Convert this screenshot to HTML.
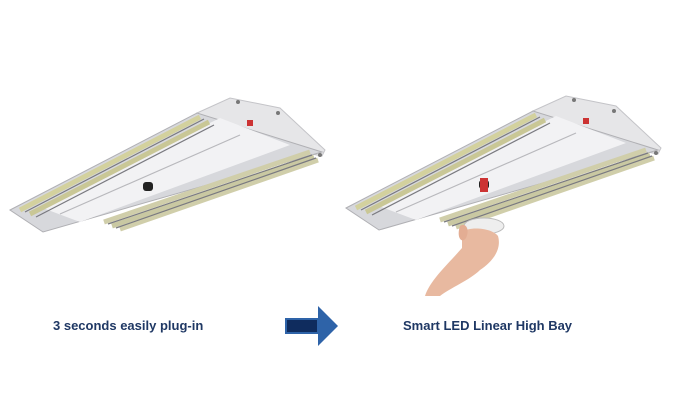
<!DOCTYPE html>
<html><head><style>
body{margin:0;background:#fff;width:684px;height:413px;overflow:hidden;font-family:"Liberation Sans",sans-serif}
.t{position:absolute;font-weight:bold;font-size:13px;color:#1f3864;top:318px}
</style></head><body>
<svg width="684" height="413" style="position:absolute;left:0;top:0">
<defs>
<g id="fx">
<polygon points="197,113 230,98 280,108 325,150 322,156 290,150" fill="#e6e6e8" stroke="#c4c4c8"/>
<polygon points="10,210 197,113 322,152 43,232" fill="#d7d8dc" stroke="#b0b0b4"/>
<polygon points="40,207 220,118 290,145 80,222" fill="#f2f2f4"/>
<g stroke-width="5" stroke-linecap="butt">
<line x1="20" y1="210" x2="200" y2="117" stroke="#d3d19e"/>
<line x1="30" y1="214" x2="209" y2="122" stroke="#c9c796"/>
<line x1="104" y1="222" x2="310" y2="152" stroke="#d0ceaa"/>
<line x1="112" y1="226" x2="314" y2="157" stroke="#c9c8a2"/>
<line x1="120" y1="229" x2="318" y2="160" stroke="#d0ceaa"/>
</g>
<g stroke="#7a7a80" stroke-width="1.2">
<line x1="25" y1="212" x2="204" y2="119"/>
<line x1="36" y1="217" x2="214" y2="125"/>
<line x1="108" y1="224" x2="312" y2="155"/>
<line x1="116" y1="228" x2="316" y2="158"/>
<line x1="60" y1="214" x2="240" y2="135" stroke="#b8b8bc"/>
</g>
<rect x="143" y="182" width="10" height="9" rx="3" fill="#222"/>
<rect x="247" y="120" width="6" height="6" fill="#c33"/>
<circle cx="238" cy="102" r="2" fill="#777"/><circle cx="278" cy="113" r="2" fill="#777"/><circle cx="320" cy="155" r="2" fill="#777"/>
</g>
</defs>
<use href="#fx"/>
<use href="#fx" transform="translate(336,-2)"/>
<rect x="480" y="178" width="8" height="14" fill="#c33"/>
<ellipse cx="484" cy="226" rx="20" ry="8" fill="#eee" stroke="#bbb"/>
<path d="M462,232 C470,226 492,228 498,236 C502,250 492,262 480,270 C470,280 450,288 440,296 L425,296 C430,280 450,262 462,248 Z" fill="#e8b9a0"/>
<path d="M460,226 C466,222 470,230 466,238 C462,244 456,238 460,226Z" fill="#e3ad93"/>
<polygon points="285,318 318,318 318,306 338,326 318,346 318,334 285,334" fill="#2e63a8"/>
<rect x="287" y="320" width="30" height="12" fill="#0f2c5e"/>
</svg>
<div class="t" style="left:53px">3 seconds easily plug-in</div>
<div class="t" style="left:403px">Smart LED Linear High Bay</div>
</body></html>
